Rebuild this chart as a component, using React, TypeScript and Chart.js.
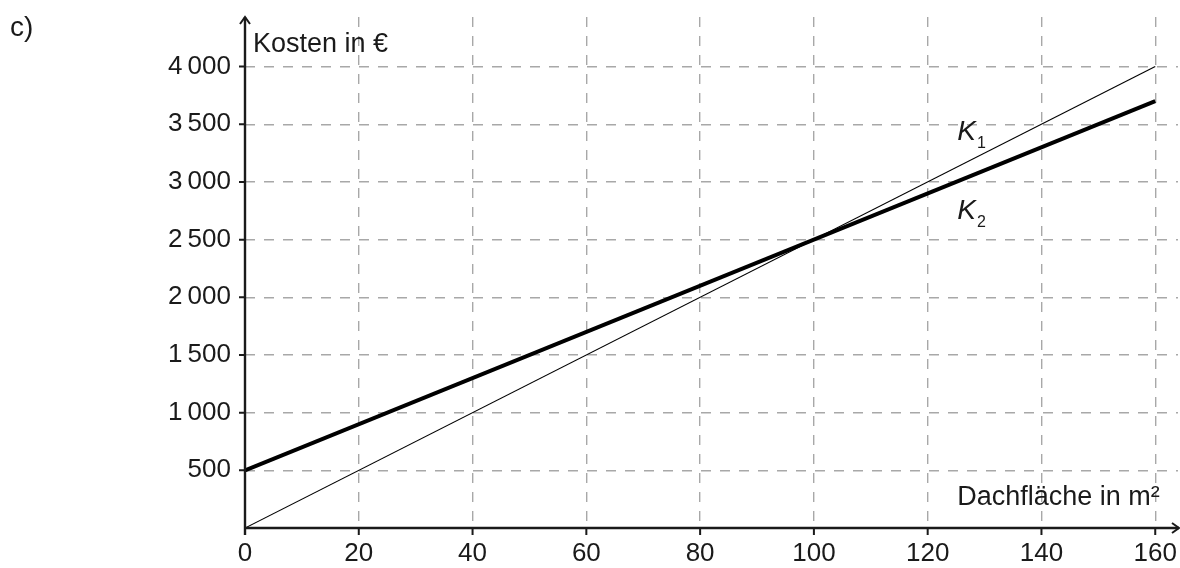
import { useEffect, useRef } from "react";
import { Chart, registerables } from "chart.js";

Chart.register(...registerables);

// ---- data ----
const areas = [0, 160]; // Dachfläche in m²
const costK1 = [0, 4000]; // K1
const costK2 = [500, 3700]; // K2
const xTickValues = [0, 20, 40, 60, 80, 100, 120, 140, 160];
const yTickValues = [500, 1000, 1500, 2000, 2500, 3000, 3500, 4000];
const seriesNames = ["K1", "K2"];

const FONT = "'Liberation Sans', Arial, Helvetica, sans-serif";
const INK = "#1a1a1a";
const GRID = "#a8a8a8";

function fmt(v: number): string {
  const s = String(v);
  if (v >= 1000) return s.slice(0, s.length - 3) + "\u2009" + s.slice(s.length - 3);
  return s;
}

const zeroPad = (s: any) => {
  s.paddingLeft = 0;
  s.paddingRight = 0;
  s.paddingTop = 0;
  s.paddingBottom = 0;
};

const decorPlugin = {
  id: "decor",
  afterDatasetsDraw(chart: any) {
    const { ctx, scales } = chart;
    const xs = scales.x;
    const ys = scales.y;
    const x0 = xs.getPixelForValue(0);
    const y0 = ys.getPixelForValue(0);
    const xEnd = chart.width - 1;
    const yTop = chart.chartArea.top;
    ctx.save();
    ctx.strokeStyle = INK;
    ctx.fillStyle = INK;
    ctx.lineCap = "butt";

    // axes
    ctx.lineWidth = 2.4;
    ctx.beginPath();
    ctx.moveTo(x0, y0 + 7);
    ctx.lineTo(x0, yTop);
    ctx.moveTo(x0, y0);
    ctx.lineTo(xEnd, y0);
    ctx.stroke();

    // arrowheads
    ctx.lineWidth = 2;
    ctx.beginPath();
    ctx.moveTo(x0 - 5, yTop + 7);
    ctx.lineTo(x0, yTop);
    ctx.lineTo(x0 + 5, yTop + 7);
    ctx.moveTo(xEnd - 7, y0 - 5);
    ctx.lineTo(xEnd, y0);
    ctx.lineTo(xEnd - 7, y0 + 5);
    ctx.stroke();

    // tick marks
    ctx.lineWidth = 2;
    ctx.beginPath();
    for (const v of xTickValues) {
      const px = xs.getPixelForValue(v);
      ctx.moveTo(px, y0);
      ctx.lineTo(px, y0 + 7);
    }
    for (const v of yTickValues) {
      const py = ys.getPixelForValue(v);
      ctx.moveTo(x0 - 6, py);
      ctx.lineTo(x0, py);
    }
    ctx.stroke();

    // axis titles
    ctx.textBaseline = "alphabetic";
    ctx.textAlign = "left";
    ctx.font = `27px ${FONT}`;
    ctx.fillText("Kosten in €", x0 + 8, yTop + 35);
    ctx.fillText("Dachfläche in m²", xs.getPixelForValue(125.2), y0 - 23);

    // series labels
    const labelPos = [
      { x: 125.2, y: 3365 },
      { x: 125.2, y: 2680 },
    ];
    seriesNames.forEach((name, i) => {
      const px = xs.getPixelForValue(labelPos[i].x);
      const py = ys.getPixelForValue(labelPos[i].y);
      ctx.font = `italic 28px ${FONT}`;
      ctx.fillText(name.charAt(0), px, py);
      const w = ctx.measureText(name.charAt(0)).width;
      ctx.font = `16px ${FONT}`;
      ctx.fillText(name.slice(1), px + w + 1, py + 8);
    });

    // part label
    ctx.font = `28px ${FONT}`;
    ctx.fillText("c)", 10, 36);
    ctx.restore();
  },
};

export default function App() {
  const ref = useRef<HTMLCanvasElement | null>(null);

  useEffect(() => {
    if (!ref.current) return;
    const chart = new Chart(ref.current, {
      type: "scatter",
      data: {
        datasets: [
          {
            label: seriesNames[0],
            data: areas.map((a, i) => ({ x: a, y: costK1[i] })),
            showLine: true,
            borderColor: "#000",
            borderWidth: 1.1,
            pointRadius: 0,
            fill: false,
          },
          {
            label: seriesNames[1],
            data: areas.map((a, i) => ({ x: a, y: costK2[i] })),
            showLine: true,
            borderColor: "#000",
            borderWidth: 4,
            pointRadius: 0,
            fill: false,
          },
        ],
      },
      options: {
        animation: false,
        responsive: false,
        maintainAspectRatio: false,
        devicePixelRatio: 1,
        layout: { padding: { left: 0, top: 17, right: 2, bottom: 0 } },
        plugins: {
          legend: { display: false },
          tooltip: { enabled: false },
        },
        scales: {
          x: {
            type: "linear",
            min: 0,
            max: 164,
            afterFit: (s: any) => {
              s.height = 40;
              zeroPad(s);
            },
            afterBuildTicks: (s: any) => {
              s.ticks = xTickValues.map((v) => ({ value: v }));
            },
            grid: {
              color: (c: any) => (c.tick && c.tick.value === 0 ? "rgba(0,0,0,0)" : GRID),
              lineWidth: 1.4,
              drawTicks: false,
            },
            border: { display: false, dash: [10, 9] },
            ticks: {
              padding: 10,
              maxRotation: 0,
              autoSkip: false,
              color: INK,
              font: { family: FONT, size: 26 },
              callback: (v: any) => String(v),
            },
          },
          y: {
            type: "linear",
            min: 0,
            max: 4430,
            afterFit: (s: any) => {
              s.width = 245;
              zeroPad(s);
            },
            afterBuildTicks: (s: any) => {
              s.ticks = yTickValues.map((v) => ({ value: v }));
            },
            grid: {
              color: GRID,
              lineWidth: 1.4,
              drawTicks: false,
            },
            border: { display: false, dash: [10, 9] },
            ticks: {
              padding: 14,
              autoSkip: false,
              color: INK,
              font: { family: FONT, size: 26 },
              callback: (v: any) => fmt(Number(v)),
            },
          },
        },
      },
      plugins: [decorPlugin],
    });
    return () => chart.destroy();
  }, []);

  return (
    <div style={{ position: "absolute", left: 0, top: 0, width: 1180, height: 568, background: "#fff" }}>
      <canvas ref={ref} width={1180} height={568} style={{ width: 1180, height: 568, display: "block" }} />
    </div>
  );
}
